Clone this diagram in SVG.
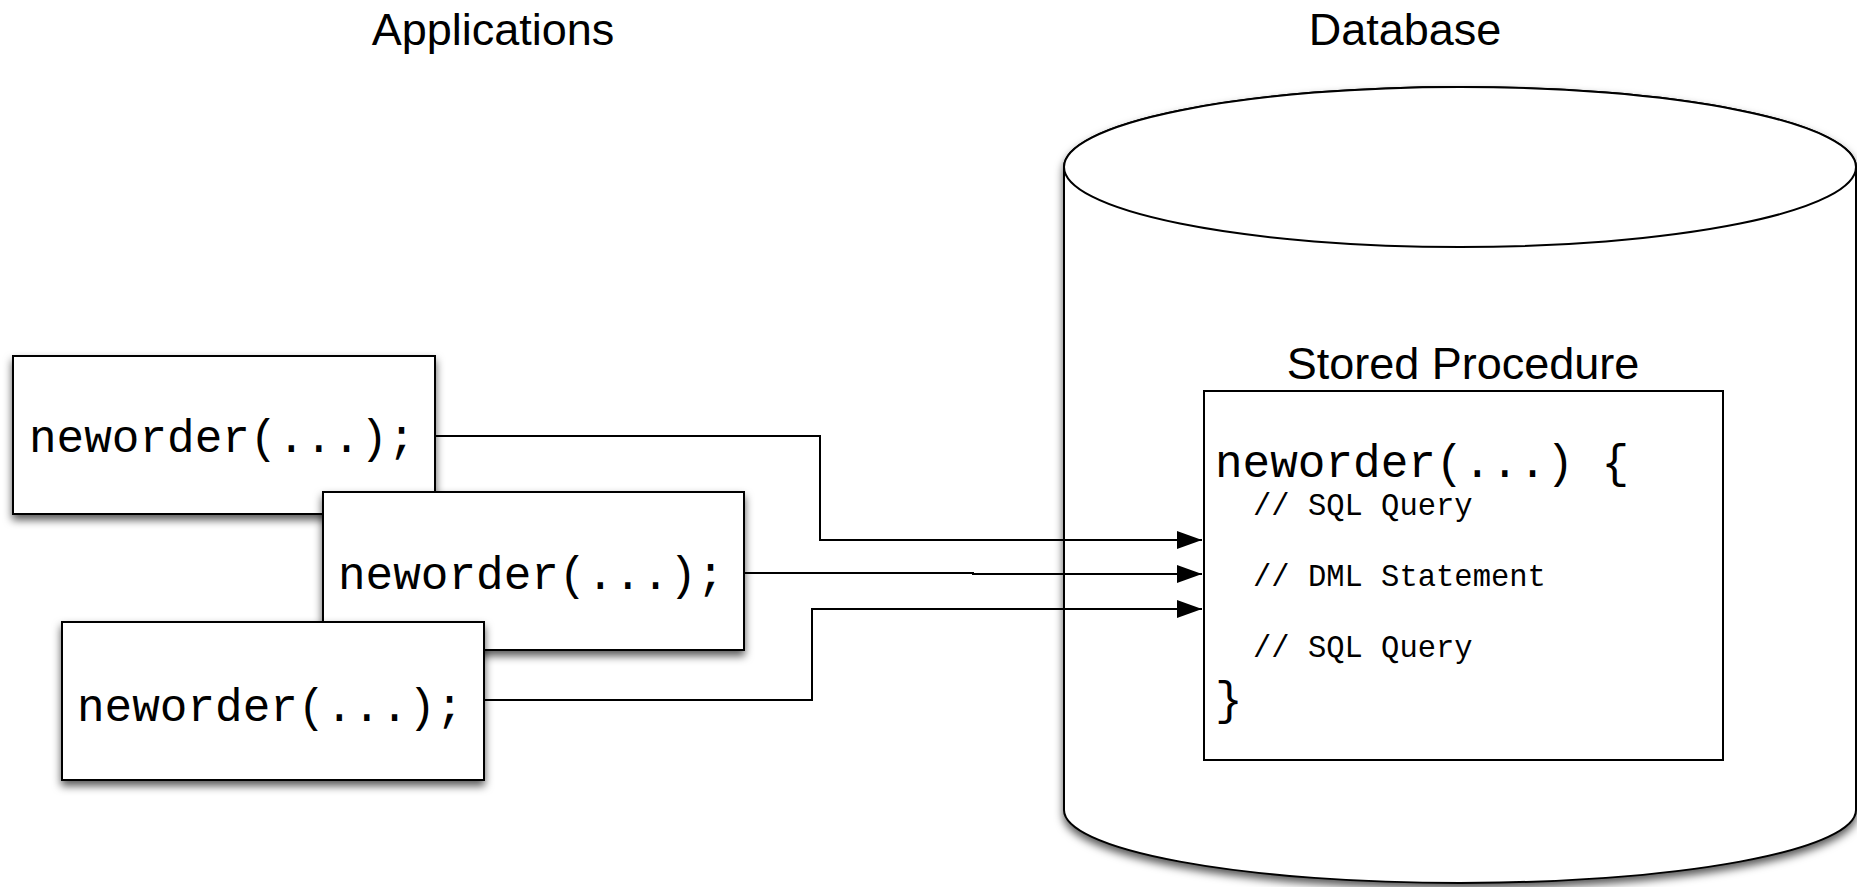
<svg xmlns="http://www.w3.org/2000/svg" width="1857" height="887" viewBox="0 0 1857 887">
  <style>
    .title { font-family: "Liberation Sans", Arial, sans-serif; font-size: 45px; fill: #000; text-anchor: middle; }
    .code { font-family: "Liberation Mono", "Courier New", monospace; font-size: 46px; fill: #000; }
    .comment { font-family: "Liberation Mono", "Courier New", monospace; font-size: 30.5px; fill: #000; }
    .box { fill: #fff; stroke: #000; stroke-width: 2; }
    .wire { fill: none; stroke: #000; stroke-width: 2; }
  </style>
  <defs>
    <filter id="shadow" x="-20%" y="-20%" width="140%" height="150%">
      <feDropShadow dx="0" dy="5" stdDeviation="4" flood-color="#000" flood-opacity="0.65"/>
    </filter>
    <marker id="arrow" viewBox="0 0 25 18" refX="25" refY="9" markerWidth="25" markerHeight="18" markerUnits="userSpaceOnUse" orient="auto">
      <path d="M0,0 L25,9 L0,18 Z" fill="#000"/>
    </marker>
  </defs>

  <rect width="1857" height="887" fill="#fff"/>

  <!-- column headings -->
  <text class="title" x="493" y="45">Applications</text>
  <text class="title" x="1405" y="45">Database</text>

  <!-- database cylinder -->
  <g id="database">
    <path class="box" filter="url(#shadow)" d="M1064,167 L1064,810 A396,73 0 0 0 1856,810 L1856,167 A396,80 0 0 0 1064,167 Z"/>
    <ellipse class="box" cx="1460" cy="167" rx="396" ry="80"/>
  </g>

  <!-- stored procedure inside the database -->
  <g id="stored-procedure">
    <text class="title" x="1463" y="379">Stored Procedure</text>
    <rect class="box" x="1204" y="391" width="519" height="369"/>
    <text class="code" x="1215" y="477">neworder(...) {</text>
    <text class="comment" x="1253" y="515">// SQL Query</text>
    <text class="comment" x="1253" y="586">// DML Statement</text>
    <text class="comment" x="1253" y="657">// SQL Query</text>
    <text class="code" x="1215" y="714">}</text>
  </g>

  <!-- application callers -->
  <g id="app1">
    <rect class="box" filter="url(#shadow)" x="13" y="356" width="422" height="158"/>
    <text class="code" x="29" y="452">neworder(...);</text>
  </g>
  <g id="app2">
    <rect class="box" filter="url(#shadow)" x="323" y="492" width="421" height="158"/>
    <text class="code" x="338" y="589">neworder(...);</text>
  </g>
  <g id="app3">
    <rect class="box" filter="url(#shadow)" x="62" y="622" width="422" height="158"/>
    <text class="code" x="77" y="721">neworder(...);</text>
  </g>

  <!-- calls into the stored procedure -->
  <g id="connectors">
    <path class="wire" marker-end="url(#arrow)" d="M435,436 L820,436 L820,540 L1202,540"/>
    <path class="wire" marker-end="url(#arrow)" d="M744,573 L973,573 L973,574 L1202,574"/>
    <path class="wire" marker-end="url(#arrow)" d="M484,700 L812,700 L812,609 L1202,609"/>
  </g>
</svg>
